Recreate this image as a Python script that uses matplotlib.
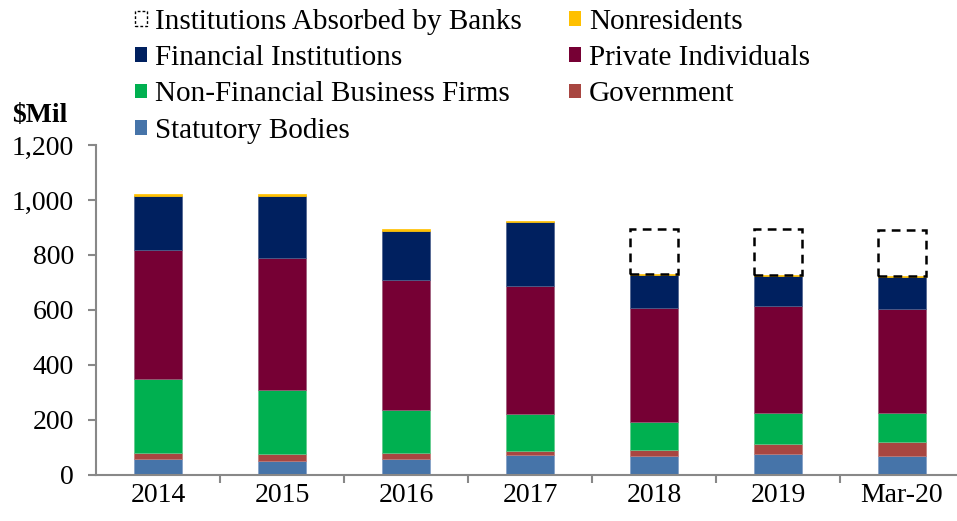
import matplotlib
matplotlib.use("Agg")
import matplotlib.pyplot as plt
from matplotlib.patches import Patch
import numpy as np

categories = ["2014", "2015", "2016", "2017", "2018", "2019", "Mar-20"]
statutory = [55, 48, 57, 70, 68, 73, 68]
government = [22, 27, 22, 15, 22, 39, 51]
nonfin_business = [269, 232, 156, 134, 103, 113, 105]
private_indiv = [473, 483, 472, 469, 415, 388, 380]
financial = [196, 223, 180, 231, 120, 110, 114]
nonresidents = [7, 7, 6, 6, 3, 2, 5]
absorbed = [0, 0, 0, 0, 163, 169, 166]

series = [
    ("Statutory Bodies", statutory, "#4674A9", "#7f9cc4"),
    ("Government", government, "#A84641", "#c07a76"),
    ("Non-Financial Business Firms", nonfin_business, "#00B050", "#5fc98a"),
    ("Private Individuals", private_indiv, "#760034", "#9a5a78"),
    ("Financial Institutions", financial, "#00205F", "#4a5f8c"),
    ("Nonresidents", nonresidents, "#FFC000", "#FFC000"),
]

plt.rcParams['font.family'] = ['Liberation Serif', 'DejaVu Serif']
FS = 20
LFS = 21

fig = plt.figure(figsize=(9.57, 5.21), dpi=100)
W, H = 957, 521
left, right, top, bottom = 96, 964, 145, 474.5
ax = fig.add_axes([left / W, 1 - bottom / H, (right - left) / W, (bottom - top) / H])

x = np.arange(len(categories))
bw = 0.395
base = np.zeros(len(categories))
handles = {}
for name, vals, col, ec in series:
    v = np.array(vals, dtype=float)
    ax.bar(x, v, bw, bottom=base, color=col, edgecolor=ec, linewidth=0.5, label=name)
    handles[name] = Patch(facecolor=col, edgecolor="none")
    base = base + v

ab = np.array(absorbed, dtype=float)
mask = ab > 0
ax.bar(x[mask], ab[mask], bw, bottom=base[mask], facecolor="none", edgecolor="black",
       linewidth=1.8, linestyle=(0, (3.5, 2.5)))
handles["Institutions Absorbed by Banks"] = Patch(facecolor="none", edgecolor="black",
                                                    linewidth=1.0, linestyle=(0, (2, 1.5)))

ax.set_ylim(0, 1200)
ax.set_xlim(-0.5, len(categories) - 0.5)
ax.set_yticks(np.arange(0, 1201, 200))
ax.set_yticklabels([f"{v:,}" for v in range(0, 1201, 200)])
ax.set_xticks(x)
ax.set_xticklabels(categories)
ax.set_xticks(np.arange(0.5, len(categories) - 0.5, 1), minor=True)
ax.tick_params(axis='x', which='major', length=0, labelsize=FS, pad=6)
ax.tick_params(axis='x', which='minor', length=6, width=1.5, color="#888888", direction="out")
ax.tick_params(axis='y', length=6, width=1.5, color="#888888", labelsize=FS, direction="out", pad=10)
for s in ["top", "right"]:
    ax.spines[s].set_visible(False)
for s in ["left", "bottom"]:
    ax.spines[s].set_color("#888888")
    ax.spines[s].set_linewidth(1.5)

fig.text(12 / W, 1 - 115 / H, "\\$Mil", fontsize=FS, fontweight="bold", va="center", ha="left")

order = ["Institutions Absorbed by Banks", "Financial Institutions", "Non-Financial Business Firms",
         "Statutory Bodies", "Nonresidents", "Private Individuals", "Government"]
leg = fig.legend([handles[n] for n in order], order, loc="upper left",
                 bbox_to_anchor=(135 / W, 1 - 9 / H), ncol=2, frameon=False,
                 fontsize=LFS, handlelength=0.4, handleheight=0.4, handletextpad=0.3,
                 columnspacing=1.6, labelspacing=0.35, borderaxespad=0, borderpad=0)

fig.savefig("out.png", dpi=100)
